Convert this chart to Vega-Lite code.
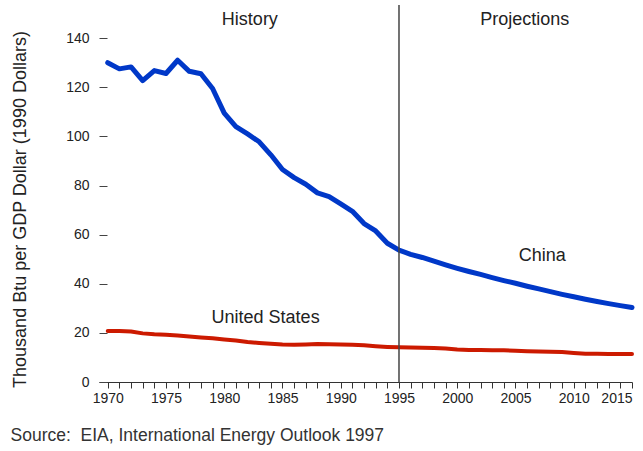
{
  "$schema": "https://vega.github.io/schema/vega-lite/v6.json",
  "width": 533,
  "height": 377,
  "autosize": "none",
  "padding": {"left": 99, "top": 5, "right": 11, "bottom": 69},
  "background": "white",
  "config": {"font": "Liberation Sans", "view": {"stroke": null}},
  "datasets": {
    "series": [
      {"country": "China", "year": 1970, "value": 130},
      {"country": "China", "year": 1971, "value": 127.5},
      {"country": "China", "year": 1972, "value": 128.3},
      {"country": "China", "year": 1973, "value": 122.7},
      {"country": "China", "year": 1974, "value": 126.8},
      {"country": "China", "year": 1975, "value": 125.6},
      {"country": "China", "year": 1976, "value": 131},
      {"country": "China", "year": 1977, "value": 126.5},
      {"country": "China", "year": 1978, "value": 125.5},
      {"country": "China", "year": 1979, "value": 119.5},
      {"country": "China", "year": 1980, "value": 109.5},
      {"country": "China", "year": 1981, "value": 104},
      {"country": "China", "year": 1982, "value": 101},
      {"country": "China", "year": 1983, "value": 97.8},
      {"country": "China", "year": 1984, "value": 92.5},
      {"country": "China", "year": 1985, "value": 86.5},
      {"country": "China", "year": 1986, "value": 83.2},
      {"country": "China", "year": 1987, "value": 80.5},
      {"country": "China", "year": 1988, "value": 77},
      {"country": "China", "year": 1989, "value": 75.5},
      {"country": "China", "year": 1990, "value": 72.5},
      {"country": "China", "year": 1991, "value": 69.5},
      {"country": "China", "year": 1992, "value": 64.5},
      {"country": "China", "year": 1993, "value": 61.5},
      {"country": "China", "year": 1994, "value": 56.5},
      {"country": "China", "year": 1995, "value": 53.7},
      {"country": "China", "year": 1996, "value": 52},
      {"country": "China", "year": 1997, "value": 50.7},
      {"country": "China", "year": 1998, "value": 49.2},
      {"country": "China", "year": 1999, "value": 47.7},
      {"country": "China", "year": 2000, "value": 46.3},
      {"country": "China", "year": 2001, "value": 45},
      {"country": "China", "year": 2002, "value": 43.8},
      {"country": "China", "year": 2003, "value": 42.5},
      {"country": "China", "year": 2004, "value": 41.3},
      {"country": "China", "year": 2005, "value": 40.2},
      {"country": "China", "year": 2006, "value": 39},
      {"country": "China", "year": 2007, "value": 37.9},
      {"country": "China", "year": 2008, "value": 36.8},
      {"country": "China", "year": 2009, "value": 35.7},
      {"country": "China", "year": 2010, "value": 34.7},
      {"country": "China", "year": 2011, "value": 33.7},
      {"country": "China", "year": 2012, "value": 32.8},
      {"country": "China", "year": 2013, "value": 31.9},
      {"country": "China", "year": 2014, "value": 31.1},
      {"country": "China", "year": 2015, "value": 30.3},
      {"country": "United States", "year": 1970, "value": 20.8},
      {"country": "United States", "year": 1971, "value": 20.8},
      {"country": "United States", "year": 1972, "value": 20.6},
      {"country": "United States", "year": 1973, "value": 19.8},
      {"country": "United States", "year": 1974, "value": 19.4},
      {"country": "United States", "year": 1975, "value": 19.2},
      {"country": "United States", "year": 1976, "value": 18.9},
      {"country": "United States", "year": 1977, "value": 18.5},
      {"country": "United States", "year": 1978, "value": 18.1},
      {"country": "United States", "year": 1979, "value": 17.8},
      {"country": "United States", "year": 1980, "value": 17.3},
      {"country": "United States", "year": 1981, "value": 16.9},
      {"country": "United States", "year": 1982, "value": 16.3},
      {"country": "United States", "year": 1983, "value": 15.9},
      {"country": "United States", "year": 1984, "value": 15.6},
      {"country": "United States", "year": 1985, "value": 15.3},
      {"country": "United States", "year": 1986, "value": 15.2},
      {"country": "United States", "year": 1987, "value": 15.3},
      {"country": "United States", "year": 1988, "value": 15.5},
      {"country": "United States", "year": 1989, "value": 15.4},
      {"country": "United States", "year": 1990, "value": 15.3},
      {"country": "United States", "year": 1991, "value": 15.2},
      {"country": "United States", "year": 1992, "value": 15.0},
      {"country": "United States", "year": 1993, "value": 14.6},
      {"country": "United States", "year": 1994, "value": 14.3},
      {"country": "United States", "year": 1995, "value": 14.1},
      {"country": "United States", "year": 1996, "value": 14.0},
      {"country": "United States", "year": 1997, "value": 13.9},
      {"country": "United States", "year": 1998, "value": 13.8},
      {"country": "United States", "year": 1999, "value": 13.6},
      {"country": "United States", "year": 2000, "value": 13.2},
      {"country": "United States", "year": 2001, "value": 13.0},
      {"country": "United States", "year": 2002, "value": 13.0},
      {"country": "United States", "year": 2003, "value": 12.9},
      {"country": "United States", "year": 2004, "value": 12.9},
      {"country": "United States", "year": 2005, "value": 12.7},
      {"country": "United States", "year": 2006, "value": 12.5},
      {"country": "United States", "year": 2007, "value": 12.4},
      {"country": "United States", "year": 2008, "value": 12.3},
      {"country": "United States", "year": 2009, "value": 12.2},
      {"country": "United States", "year": 2010, "value": 11.8},
      {"country": "United States", "year": 2011, "value": 11.5},
      {"country": "United States", "year": 2012, "value": 11.5},
      {"country": "United States", "year": 2013, "value": 11.4},
      {"country": "United States", "year": 2014, "value": 11.4},
      {"country": "United States", "year": 2015, "value": 11.4}
    ],
    "labels": [
      {"label": "China", "year": 2007.3, "value": 51.5},
      {"label": "United States", "year": 1983.55, "value": 26},
      {"label": "History", "year": 1982.2, "value": 147.3},
      {"label": "Projections", "year": 2005.8, "value": 147.3}
    ],
    "divider": [
      {"year": 1995, "value": 0, "top": 153.5}
    ]
  },
  "encoding": {
    "x": {
      "field": "year",
      "type": "quantitative",
      "scale": {"domain": [1969.25, 2015], "nice": false, "zero": false},
      "axis": {
        "values": [1970, 1971, 1972, 1973, 1974, 1975, 1976, 1977, 1978, 1979, 1980, 1981, 1982, 1983, 1984, 1985, 1986, 1987, 1988, 1989, 1990, 1991, 1992, 1993, 1994, 1995, 1996, 1997, 1998, 1999, 2000, 2001, 2002, 2003, 2004, 2005, 2006, 2007, 2008, 2009, 2010, 2011, 2012, 2013, 2014, 2015],
        "format": "d",
        "labelExpr": "datum.value % 5 === 0 ? datum.label : ''",
        "labelOverlap": false,
        "labelFlush": true,
        "grid": false,
        "tickSize": 6,
        "tickColor": "#333",
        "domainColor": "#333",
        "labelFontSize": 14,
        "labelColor": "#222",
        "labelPadding": 3,
        "title": "Source:\u00a0 EIA, International Energy Outlook 1997",
        "titleFontSize": 17.5,
        "titleFontWeight": "normal",
        "titleColor": "#333",
        "titleAnchor": "start",
        "titleAlign": "left",
        "titleX": -89,
        "titleY": 58,
        "titleBaseline": "alphabetic"
      }
    },
    "y": {
      "field": "value",
      "type": "quantitative",
      "scale": {"domain": [0, 153.5], "nice": false},
      "axis": {
        "values": [0, 20, 40, 60, 80, 100, 120, 140],
        "domain": false,
        "grid": false,
        "offset": -8,
        "tickSize": 8,
        "tickColor": "#444",
        "labelPadding": 10,
        "labelFontSize": 14,
        "labelColor": "#222",
        "title": "Thousand Btu per GDP Dollar (1990 Dollars)",
        "titleFontSize": 18,
        "titleFontWeight": "normal",
        "titleColor": "#222",
        "titleAngle": -90,
        "titleX": -87,
        "titleY": 204,
        "titleAlign": "center",
        "titleBaseline": "middle"
      }
    }
  },
  "layer": [
    {
      "data": {"name": "series"},
      "mark": {"type": "line", "strokeJoin": "round", "strokeCap": "round"},
      "encoding": {
        "color": {
          "field": "country",
          "type": "nominal",
          "scale": {"domain": ["China", "United States"], "range": ["#0038c8", "#cc1a00"]},
          "legend": null
        },
        "strokeWidth": {
          "field": "country",
          "type": "nominal",
          "scale": {"domain": ["China", "United States"], "range": [5, 4]},
          "legend": null
        }
      }
    },
    {
      "data": {"name": "labels"},
      "mark": {"type": "text", "fontSize": 18, "color": "#222", "align": "center", "baseline": "middle"},
      "encoding": {
        "text": {"field": "label", "type": "nominal"}
      }
    },
    {
      "data": {"name": "divider"},
      "mark": {"type": "rule", "color": "#444", "strokeWidth": 1.5},
      "encoding": {
        "y2": {"field": "top"}
      }
    }
  ]
}
